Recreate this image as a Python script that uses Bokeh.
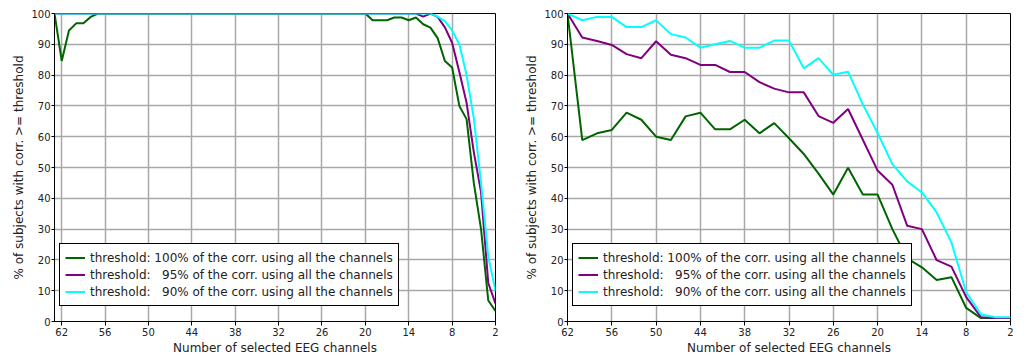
from bokeh.plotting import figure
from bokeh.models import Range1d, FixedTicker, Legend, LegendItem
from bokeh.layouts import row
from bokeh.embed import file_html
from bokeh.resources import INLINE

FONT = "DejaVu Sans"

# ---------------- data ----------------
x_ticks = [62, 56, 50, 44, 38, 32, 26, 20, 14, 8, 2]
y_ticks = [0, 10, 20, 30, 40, 50, 60, 70, 80, 90, 100]

labels = [
    "threshold: 100% of the corr. using all the channels",
    "threshold: \u200795% of the corr. using all the channels",
    "threshold: \u200790% of the corr. using all the channels",
]
colors = ["#006400", "#800080", "#00ffff"]

x_label = "Number of selected EEG channels"
y_label = "% of subjects with corr. >= threshold"

# left panel: channels 63 .. 2
left_channels = list(range(63, 1, -1))
left_100 = [100, 84.6, 94.5, 96.8, 96.8, 98.9, 100,
            100, 100, 100, 100, 100, 100, 100, 100, 100, 100, 100, 100,
            100, 100, 100, 100, 100, 100, 100, 100, 100, 100, 100, 100,
            100, 100, 100, 100, 100, 100, 100, 100, 100, 100, 100, 100,
            100, 97.8, 97.8, 97.8, 98.7, 98.7, 97.8, 98.7, 96.5, 95.4,
            92.0, 84.6, 82.5, 70.0, 65.7, 45.0, 30.0, 6.8, 3.4]
left_95 = [100, 100, 100, 100, 100, 100, 100, 100, 100, 100,
           100, 100, 100, 100, 100, 100, 100, 100, 100, 100,
           100, 100, 100, 100, 100, 100, 100, 100, 100, 100,
           100, 100, 100, 100, 100, 100, 100, 100, 100, 100,
           100, 100, 100, 100, 100, 100, 100, 100, 100, 100,
           100, 99.0, 100, 98.9, 95.5, 90.5, 81.0, 71.0, 55.0, 42.0, 12.5, 5.8]
left_90 = [100, 100, 100, 100, 100, 100, 100, 100, 100, 100,
           100, 100, 100, 100, 100, 100, 100, 100, 100, 100,
           100, 100, 100, 100, 100, 100, 100, 100, 100, 100,
           100, 100, 100, 100, 100, 100, 100, 100, 100, 100,
           100, 100, 100, 100, 100, 100, 100, 100, 100, 100,
           100, 100, 100, 99.0, 97.5, 94.5, 90.0, 80.0, 66.0, 45.0, 21.0, 10.0]

# right panel: channels 62, 60, ..., 2
right_channels = list(range(62, 0, -2))
right_100 = [100, 58.9, 61.1, 62.2, 67.8, 65.5, 60.0, 58.9, 66.6, 67.8,
             62.4, 62.4, 65.5, 61.1, 64.4, 59.5, 54.4, 48.0, 41.2, 49.9,
             41.2, 41.2, 30.0, 20.5, 17.6, 13.5, 14.4, 4.4, 1.1, 1.1, 1.1]
right_95 = [100, 92.2, 91.1, 89.8, 86.8, 85.5, 91.0, 86.6, 85.5, 83.3,
            83.3, 81.0, 81.0, 77.7, 75.6, 74.4, 74.4, 66.7, 64.5, 69.0,
            59.0, 49.0, 44.4, 31.1, 30.0, 19.9, 17.8, 7.9, 1.4, 1.1, 1.1]
right_90 = [100, 97.8, 98.9, 98.9, 95.6, 95.6, 97.8, 93.3, 92.2, 88.9,
            90.0, 91.1, 88.9, 88.9, 91.2, 91.2, 82.2, 85.5, 80.1, 81.1,
            70.5, 61.2, 51.1, 45.5, 41.9, 35.4, 25.7, 9.5, 2.3, 1.4, 1.4]


def make_panel(ch, series, x_start, width, border_left, border_right):
    p = figure(width=width, height=358,
               x_range=Range1d(x_start, 2), y_range=Range1d(0, 100),
               output_backend="svg", toolbar_location=None,
               min_border_left=border_left, min_border_right=border_right,
               min_border_top=13, min_border_bottom=37,
               background_fill_color="white", border_fill_color="white")
    p.outline_line_color = "black"
    p.outline_line_alpha = 1.0
    p.outline_line_width = 1

    p.xaxis.ticker = FixedTicker(ticks=x_ticks)
    p.yaxis.ticker = FixedTicker(ticks=y_ticks)
    p.xgrid.ticker = FixedTicker(ticks=x_ticks)
    p.ygrid.ticker = FixedTicker(ticks=y_ticks)
    for g in (p.xgrid, p.ygrid):
        g.grid_line_color = "#a8a8a8"
        g.grid_line_width = 1.5
        g.grid_line_alpha = 1.0

    for ax in (p.xaxis, p.yaxis):
        ax.axis_line_color = "black"
        ax.major_tick_line_color = "black"
        ax.minor_tick_line_color = None
        ax.major_tick_in = 0
        ax.major_label_text_font = FONT
        ax.major_label_text_font_size = "10px"
        ax.major_label_text_color = "#222222"
        ax.axis_label_text_font = FONT
        ax.axis_label_text_font_size = "12px"
        ax.axis_label_text_font_style = "normal"
        ax.axis_label_text_color = "#222222"
    p.xaxis.major_tick_out = 4
    p.xaxis.major_label_standoff = 2
    p.xaxis.axis_label_standoff = 2
    p.yaxis.major_tick_out = 3
    p.yaxis.major_label_standoff = 1
    p.yaxis.axis_label_standoff = 2
    p.xaxis.axis_label = x_label
    p.yaxis.axis_label = y_label

    items = []
    for vals, col, lab in zip(series, colors, labels):
        r = p.line(ch, vals, line_color=col, line_width=2)
        items.append(LegendItem(label=lab, renderers=[r]))

    leg = Legend(items=items, location=(5, 15))
    leg.label_text_font = FONT
    leg.label_text_font_size = "12px"
    leg.label_text_color = "#222222"
    leg.glyph_width = 20
    leg.glyph_height = 17
    leg.label_height = 17
    leg.label_standoff = 5
    leg.spacing = 0
    leg.padding = 5
    leg.margin = 0
    leg.border_line_color = "black"
    leg.border_line_width = 1
    leg.border_line_alpha = 1.0
    leg.background_fill_color = "white"
    leg.background_fill_alpha = 1.0
    p.add_layout(leg, "center")
    return p


p1 = make_panel(left_channels, [left_100, left_95, left_90], 63, 518, 54, 23)
p2 = make_panel(right_channels, [right_100, right_95, right_90], 62, 506, 49, 14)

layout = row(p1, p2)
open("out.html", "w").write(file_html(layout, INLINE))
